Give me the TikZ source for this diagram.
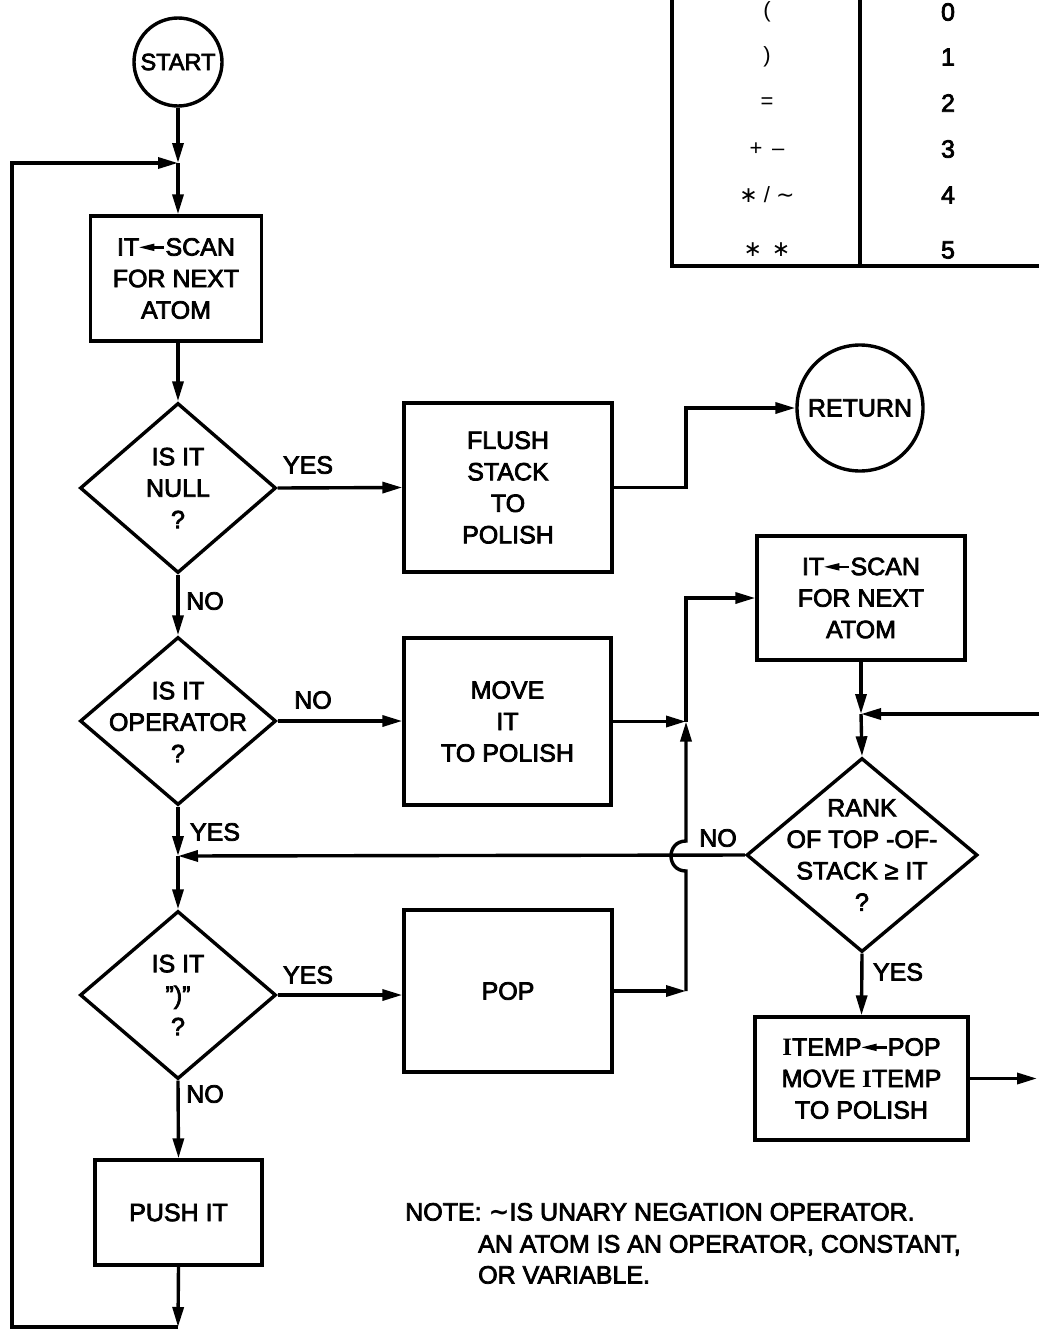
\documentclass[tikz,border=0pt]{standalone}
\usepackage{fontspec}
\setmainfont{Liberation Sans}[BoldFont={Liberation Sans}, BoldFeatures={FakeBold=3}]
\newfontfamily\serifI{Liberation Serif}
\newfontfamily\djv{DejaVu Sans}
\usetikzlibrary{arrows.meta,shapes.geometric}
\newcommand\mf{\fontsize{25}{31.5}\selectfont\bfseries}
\newcommand\startfnt{\fontsize{23.5}{28}\selectfont\bfseries}
\newcommand\tf{\fontsize{22}{26}\selectfont}
\newcommand\txtarrow{\tikz[baseline=-0.33em]{\fill (0,0) -- (0.6em,0.15em) -- (0.6em,-0.15em) -- cycle; \draw[line width=0.1em] (0.4em,0) -- (1.0em,0);}}
\newcommand\sI{{\serifI\bfseries I}}
\tikzset{
  ln/.style={line width=3.4pt},
  arr/.style={line width=3.4pt, -{Triangle[length=20pt,width=11pt]}},
  box/.style={draw, rectangle, line width=3.4pt, inner sep=0pt, align=center, font=\mf},
  dia/.style={draw, diamond, line width=3.4pt, inner sep=0pt},
  circ/.style={draw, circle, line width=3.4pt, inner sep=0pt, font=\mf},
  txt/.style={align=center, font=\mf, inner sep=0pt},
  lbl/.style={font=\mf, inner sep=0pt},
  tl/.style={font=\tf, inner sep=0pt},
}
\begin{document}
\begin{tikzpicture}[x=1pt,y=-1pt]
\useasboundingbox (0,0) rectangle (1039,1330);

% ---- table
\draw[ln] (672,0) -- (672,266) -- (1039,266);
\draw[ln] (860,0) -- (860,266);
\node[tl] (t0) at (767,12) {(};
\node[tl] (t1) at (767,57) {)};
\node[tl] (t2) at (767,103) {=};
\node[tl] (t3) at (767,149) {+ \,–};
\node[tl] (t4) at (767,195) {{\djv ∗} / {\djv∼}};
\node[tl] (t5) at (767,250) {{\djv ∗} \,{\djv ∗}};
\node[lbl] (n0) at (948,12) {0};
\node[lbl] (n1) at (948,57) {1};
\node[lbl] (n2) at (948,103) {2};
\node[lbl] (n3) at (948,149) {3};
\node[lbl] (n4) at (948,195) {4};
\node[lbl] (n5) at (948,250) {5};

% ---- left column
\node[circ, minimum size=88pt, font=\startfnt] (start) at (178,62) {START};
\coordinate (j1) at (178,163);
\node[box, minimum width=171pt, minimum height=125pt] (sc1) at (176,278.5) {IT\txtarrow SCAN\\FOR NEXT\\ATOM};
\node[dia, minimum width=196pt, minimum height=170pt] (d1) at (178,488) {};
\node[txt] (d1t) at (178,488) {IS IT\\NULL\\?};
\node[box, minimum width=208pt, minimum height=169pt] (fl) at (508,487.5) {FLUSH\\STACK\\TO\\POLISH};
\node[circ, minimum size=126pt] (ret) at (860,408) {RETURN};
\node[dia, minimum width=196pt, minimum height=168pt] (d2) at (178,721) {};
\node[txt] (d2t) at (178,722) {IS IT\\OPERATOR\\?};
\node[box, minimum width=207pt, minimum height=167pt] (mv) at (507.5,721.5) {MOVE\\IT\\TO POLISH};
\coordinate (j4) at (178,856);
\node[dia, minimum width=196pt, minimum height=168pt] (d4) at (178,995) {};
\node[txt] (d4t) at (178,995) {IS IT\\”)”\\?};
\node[box, minimum width=208pt, minimum height=162pt] (pop) at (508,991) {POP};
\node[box, minimum width=167pt, minimum height=105pt] (push) at (178.5,1212.5) {PUSH IT};
\coordinate (jb) at (178,1327);
\coordinate (cbl) at (12,1327);
\coordinate (ctl) at (12,163);

% ---- right column
\node[box, minimum width=208pt, minimum height=124pt] (sc2) at (861,598) {IT\txtarrow SCAN\\FOR NEXT\\ATOM};
\coordinate (j6) at (861,714);
\coordinate (er) at (1039,714);
\node[dia, minimum width=231pt, minimum height=194pt] (d3) at (862,855) {};
\node[txt] (d3t) at (862,855) {RANK\\OF TOP -OF-\\STACK ≥ IT\\?};
\node[box, minimum width=213pt, minimum height=123pt] (it) at (861.5,1078.5) {\sI TEMP\txtarrow POP\\MOVE \sI TEMP\\TO POLISH};
\coordinate (er2) at (1037,1078.5);

% ---- junction column x=686
\coordinate (jf) at (686,487.5);
\coordinate (jr) at (686,408);
\coordinate (jt) at (686,598);
\coordinate (jm) at (686,721.5);
\coordinate (jp) at (686,991);

% ---- connectors
\draw[arr] (start) -- (j1);
\draw[arr] (j1) -- (j1 |- sc1.north);
\draw[arr] (j1 |- sc1.south) -- (d1.north);
\draw[arr] (d1.east) -- (fl.west);
\draw[arr] (fl.east) -- (jf) -- (jr) -- (ret.west);
\draw[arr] (d1.south) -- (d2.north);
\draw[arr] (d2.east) -- (d2.east -| mv.west);
\draw[arr] (mv.east) -- (jm);
\draw[arr] (d2.south) -- (j4);
\draw[arr] (j4) -- (d4.north);
\draw[arr] (d4.east) -- (d4.east -| pop.west);
\draw[arr] (pop.east) -- (jp);
\draw[arr] (jp) -- (686,871) .. controls (666,871) and (666,841) .. (686,841) -- (jm);
\draw[arr] (jm) -- (jt) -- (sc2.west);
\draw[arr] (d4.south) -- (push.north);
\draw[arr] (push.south) -- (jb);
\draw[arr] (jb) -- (cbl) -- (ctl) -- (j1);
\draw[arr] (sc2.south) -- (j6);
\draw[arr] (er) -- (j6);
\draw[arr] (j6) -- (d3.north);
\draw[arr] (d3.west) -- (j4);
\draw[arr] (d3.south) -- (it.north);
\draw[arr] (it.east) -- (er2);

% ---- labels
\node[lbl] (y1) at (308,465) {YES};
\node[lbl] (n1l) at (205,601) {NO};
\node[lbl] (n2l) at (313,700) {NO};
\node[lbl] (y2) at (215,832) {YES};
\node[lbl] (y3) at (308,975) {YES};
\node[lbl] (n3l) at (205,1094) {NO};
\node[lbl] (n4l) at (718,838) {NO};
\node[lbl] (y4) at (898,972) {YES};

% ---- note
\node[lbl, anchor=base west] (note1) at (405,1220.5) {NOTE: {\djv∼}IS UNARY NEGATION OPERATOR.};
\node[lbl, anchor=base west] (note2) at (478,1252.5) {AN ATOM IS AN OPERATOR, CONSTANT,};
\node[lbl, anchor=base west] (note3) at (478,1283.5) {OR VARIABLE.};
\end{tikzpicture}
\end{document}
